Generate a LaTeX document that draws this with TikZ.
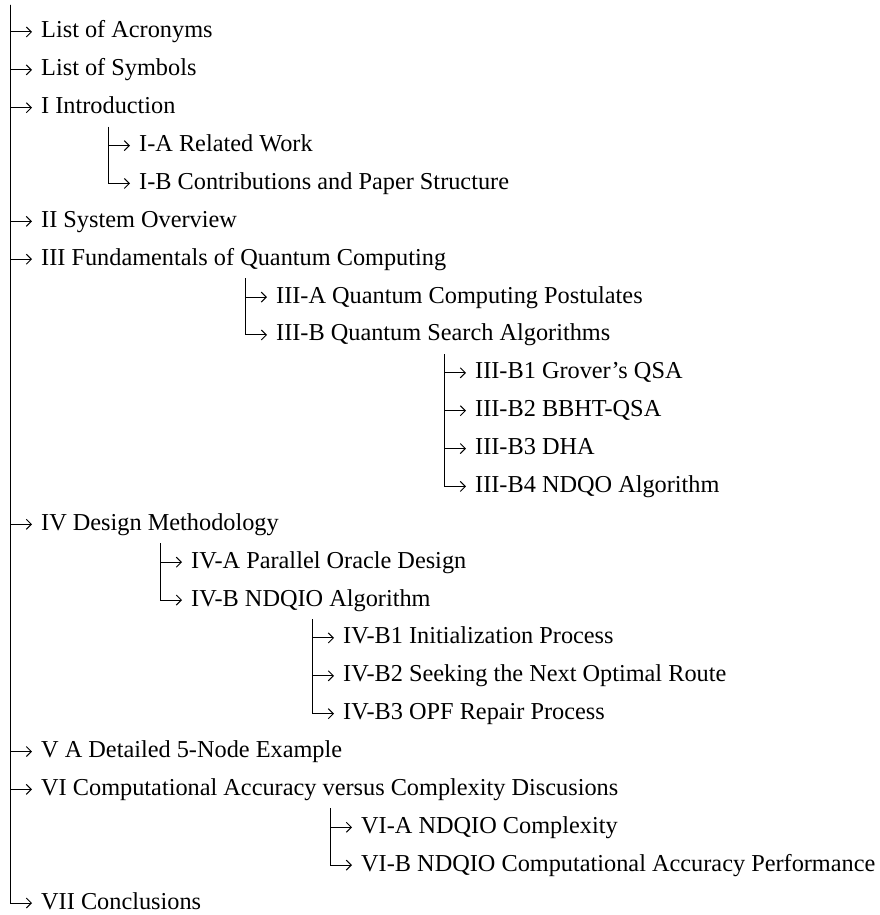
\documentclass[tikz,border=0pt]{standalone}
\usepackage{fontspec}
\setmainfont{Liberation Serif}
\usetikzlibrary{arrows.meta}
\tikzset{
  item/.style={anchor=west, inner xsep=9pt, inner ysep=0pt, text height=17pt, text depth=5pt,
    font=\fontsize{24.3}{29}\selectfont},
  conn/.style={draw=black, line width=1pt, -{Straight Barb[length=5pt,width=10pt,line width=1pt]}}
}
\begin{document}
\begin{tikzpicture}[x=1pt,y=-1pt]
\useasboundingbox (0,0) rectangle (879,915);
% branch tops
\coordinate (tMain) at (10,5);
\coordinate (tI) at (108,127);
\coordinate (tIII) at (245,278);
\coordinate (tIIIB) at (444,354);
\coordinate (tIV) at (160,543);
\coordinate (tIVB) at (312,619);
\coordinate (tVI) at (330,808);
% nodes
\node[item] (acr) at (32,32) {List of Acronyms};
\node[item] (sym) at (32,69.87) {List of Symbols};
\node[item] (I) at (32,107.74) {I Introduction};
\node[item] (IA) at (130,145.61) {I-A Related Work};
\node[item] (IB) at (130,183.48) {I-B Contributions and Paper Structure};
\node[item] (II) at (32,221.35) {II System Overview};
\node[item] (III) at (32,259.22) {III Fundamentals of Quantum Computing};
\node[item] (IIIA) at (267,297.09) {III-A Quantum Computing Postulates};
\node[item] (IIIB) at (267,334.96) {III-B Quantum Search Algorithms};
\node[item] (IIIBa) at (466,372.83) {III-B1 Grover’s QSA};
\node[item] (IIIBb) at (466,410.7) {III-B2 BBHT-QSA};
\node[item] (IIIBc) at (466,448.57) {III-B3 DHA};
\node[item] (IIIBd) at (466,486.44) {III-B4 NDQO Algorithm};
\node[item] (IV) at (32,524.31) {IV Design Methodology};
\node[item] (IVA) at (182,562.18) {IV-A Parallel Oracle Design};
\node[item] (IVB) at (182,600.05) {IV-B NDQIO Algorithm};
\node[item] (IVBa) at (334,637.92) {IV-B1 Initialization Process};
\node[item] (IVBb) at (334,675.79) {IV-B2 Seeking the Next Optimal Route};
\node[item] (IVBc) at (334,713.66) {IV-B3 OPF Repair Process};
\node[item] (V) at (32,751.53) {V A Detailed 5-Node Example};
\node[item] (VI) at (32,789.4) {VI Computational Accuracy versus Complexity Discusions};
\node[item] (VIA) at (352,827.27) {VI-A NDQIO Complexity};
\node[item] (VIB) at (352,865.14) {VI-B NDQIO Computational Accuracy Performance};
\node[item] (VII) at (32,903.01) {VII Conclusions};
% connectors
\foreach \n in {acr,sym,I,II,III,IV,V,VI,VII} \draw[conn] (tMain) |- (\n);
\foreach \n in {IA,IB} \draw[conn] (tI) |- (\n);
\foreach \n in {IIIA,IIIB} \draw[conn] (tIII) |- (\n);
\foreach \n in {IIIBa,IIIBb,IIIBc,IIIBd} \draw[conn] (tIIIB) |- (\n);
\foreach \n in {IVA,IVB} \draw[conn] (tIV) |- (\n);
\foreach \n in {IVBa,IVBb,IVBc} \draw[conn] (tIVB) |- (\n);
\foreach \n in {VIA,VIB} \draw[conn] (tVI) |- (\n);
\end{tikzpicture}
\end{document}
